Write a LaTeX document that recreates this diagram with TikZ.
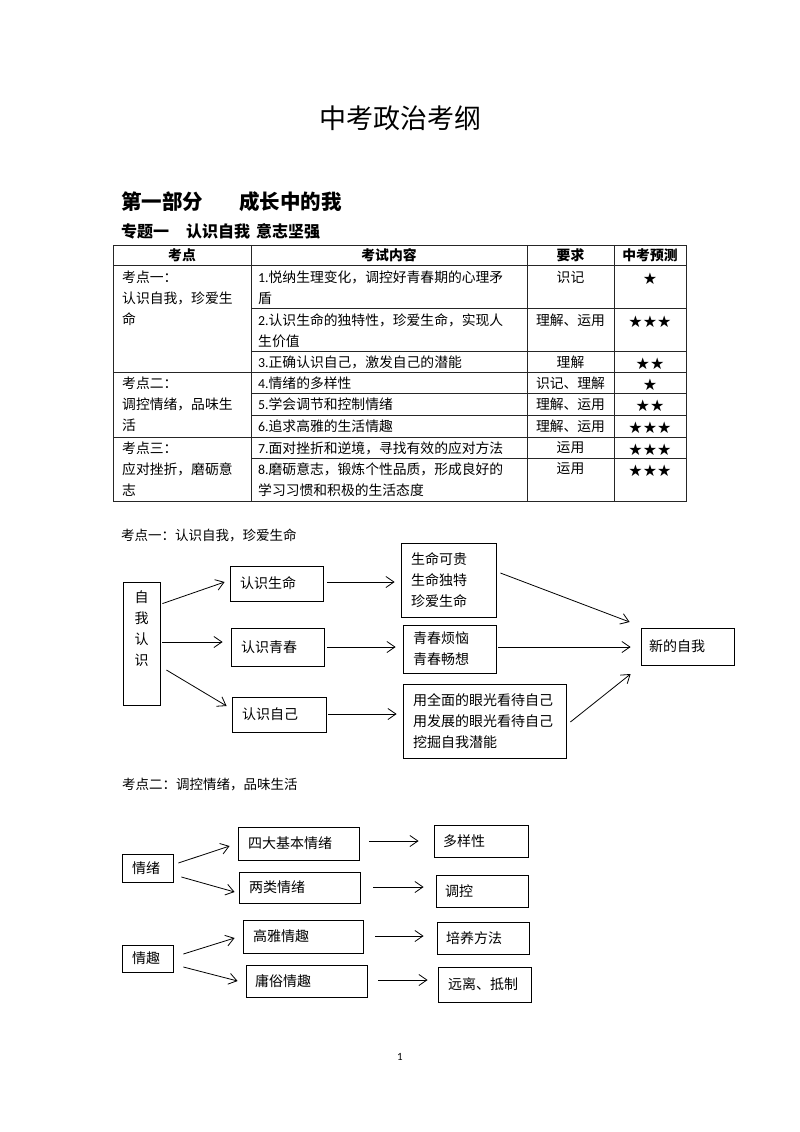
\documentclass[tikz,border=0pt]{standalone}
\usepackage{fontspec}
\setmainfont{Noto Sans CJK SC}
\newfontfamily\lat{Carlito}
\newfontfamily\sym{DejaVu Sans}
\usetikzlibrary{arrows.meta}
\tikzset{
  bx/.style={draw, line width=0.8pt, inner xsep=10pt, inner ysep=0pt, align=left, font=\fontsize{14}{21}\selectfont},
  arr/.style={-{Straight Barb[length=8pt,width=11pt]}, line width=0.8pt},
  tbl/.style={line width=0.7pt, black!85},
  tl/.style={anchor=west, inner sep=0pt, font=\fontsize{13.8}{21}\selectfont},
  tc/.style={anchor=center, inner sep=0pt, font=\fontsize{13.8}{21}\selectfont},
  th/.style={anchor=center, inner sep=0pt, font=\bfseries\fontsize{13.8}{21}\selectfont},
  stars/.style={anchor=center, inner sep=0pt, font=\sym\fontsize{16}{16}\selectfont},
  captxt/.style={anchor=west, inner sep=0pt, font=\fontsize{13.5}{21}\selectfont},
}
\begin{document}
\begin{tikzpicture}[x=1pt,y=-1pt]
\useasboundingbox (0,0) rectangle (800,1132);
\fill[white] (0,0) rectangle (800,1132);

% headings
\node[inner sep=0pt, font=\fontsize{27}{27}\selectfont] (title) at (400.5,118) {中考政治考纲};
\node[anchor=west, inner sep=0pt, font=\bfseries\fontsize{20.5}{20.5}\selectfont] (part) at (121,202) {第一部分\hspace{36pt}成长中的我};
\node[anchor=west, inner sep=0pt, font=\bfseries\fontsize{16}{16}\selectfont] (topic) at (121,231) {专题一\hspace{17pt}认识自我\hspace{6pt}意志坚强};

% table grid
\draw[tbl] (113,245) rectangle (686,501);
\draw[tbl] (113,265) -- (686,265);
\draw[tbl] (113,372) -- (686,372);
\draw[tbl] (113,437) -- (686,437);
\foreach \yy in {308,351,393,415,458} \draw[tbl] (251,\yy) -- (686,\yy);
\foreach \xx in {251,527,614} \draw[tbl] (\xx,245) -- (\xx,501);

% header
\node[th] (h1) at (182,255) {考点};
\node[th] (h2) at (389,255) {考试内容};
\node[th] (h3) at (570.5,255) {要求};
\node[th] (h4) at (650,255) {中考预测};

% column 1
\node[tl] (k1a) at (122,277) {考点一：};
\node[tl] (k1b) at (122,298) {认识自我，珍爱生};
\node[tl] (k1c) at (122,319) {命};
\node[tl] (k2a) at (122,383) {考点二：};
\node[tl] (k2b) at (122,404) {调控情绪，品味生};
\node[tl] (k2c) at (122,425) {活};
\node[tl] (k3a) at (122,448) {考点三：};
\node[tl] (k3b) at (122,469) {应对挫折，磨砺意};
\node[tl] (k3c) at (122,490) {志};

% column 2
\node[tl] (c1a) at (258,277) {{\lat 1.}悦纳生理变化，调控好青春期的心理矛};
\node[tl] (c1b) at (258,298) {盾};
\node[tl] (c2a) at (258,320) {{\lat 2.}认识生命的独特性，珍爱生命，实现人};
\node[tl] (c2b) at (258,341) {生价值};
\node[tl] (c3a) at (258,362) {{\lat 3.}正确认识自己，激发自己的潜能};
\node[tl] (c4a) at (258,383) {{\lat 4.}情绪的多样性};
\node[tl] (c5a) at (258,404) {{\lat 5.}学会调节和控制情绪};
\node[tl] (c6a) at (258,426) {{\lat 6.}追求高雅的生活情趣};
\node[tl] (c7a) at (258,448) {{\lat 7.}面对挫折和逆境，寻找有效的应对方法};
\node[tl] (c8a) at (258,469) {{\lat 8.}磨砺意志，锻炼个性品质，形成良好的};
\node[tl] (c8b) at (258,490) {学习习惯和积极的生活态度};

% column 3
\node[tc] (q1) at (570.5,277) {识记};
\node[tc] (q2) at (570.5,320) {理解、运用};
\node[tc] (q3) at (570.5,362) {理解};
\node[tc] (q4) at (570.5,383) {识记、理解};
\node[tc] (q5) at (570.5,404) {理解、运用};
\node[tc] (q6) at (570.5,426) {理解、运用};
\node[tc] (q7) at (570.5,448) {运用};
\node[tc] (q8) at (570.5,469) {运用};

% column 4
\node[stars] (s1) at (650,279) {★};
\node[stars] (s2) at (650,322) {★★★};
\node[stars] (s3) at (650,364) {★★};
\node[stars] (s4) at (650,385) {★};
\node[stars] (s5) at (650,406) {★★};
\node[stars] (s6) at (650,428) {★★★};
\node[stars] (s7) at (650,450) {★★★};
\node[stars] (s8) at (650,471) {★★★};

% diagram 1
\node[captxt] (cap1) at (121,535) {考点一：认识自我，珍爱生命};
\node[draw, line width=0.8pt, inner sep=0pt, minimum width=37pt, minimum height=123pt] (zw) at (141.5,643.5) {};
\node[anchor=north, inner sep=0pt, align=center, font=\fontsize{14}{20.7}\selectfont] (zwt) at (141.5,591) {自\\我\\认\\识};
\node[bx, text width=73pt, minimum height=35pt] (rsm) at (276.5,583.5) {认识生命};
\node[bx, text width=73pt, minimum height=38pt] (rqc) at (277.5,647) {认识青春};
\node[bx, text width=74pt, minimum height=35pt] (rzj) at (279,714.5) {认识自己};
\node[bx, text width=75pt, minimum height=74pt] (smkg) at (448.5,580) {生命可贵\\生命独特\\珍爱生命};
\node[bx, text width=73pt, minimum height=48pt] (qcfn) at (449.5,649) {青春烦恼\\青春畅想};
\node[bx, text width=143pt, minimum height=74pt] (yqm) at (484.5,721) {用全面的眼光看待自己\\用发展的眼光看待自己\\挖掘自我潜能};
\node[bx, inner xsep=8pt, text width=77pt, minimum height=37pt] (xdzw) at (687.5,646.5) {新的自我};

\draw[arr] ([shift={(2,22)}]zw.north east) -- ([shift={(-5,-1.5)}]rsm.west);
\draw[arr] ([shift={(2,-1.5)}]zw.east) -- ([shift={(-8,-5)}]rqc.west);
\draw[arr] ([shift={(6,26.5)}]zw.east) -- ([shift={(-5,-8.5)}]rzj.west);
\draw[arr] ([shift={(4,-1.5)}]rsm.east) -- ([shift={(-6,2)}]smkg.west);
\draw[arr] ([shift={(3,0)}]rqc.east) -- ([shift={(-7,-2)}]qcfn.west);
\draw[arr] ([shift={(2,-0.5)}]rzj.east) -- ([shift={(-6,-7)}]yqm.west);
\draw[arr] ([shift={(4,-7)}]smkg.east) -- ([shift={(-11,-24.5)}]xdzw.west);
\draw[arr] ([shift={(2,-2)}]qcfn.east) -- ([shift={(-10,0.5)}]xdzw.west);
\draw[arr] ([shift={(4,1)}]yqm.east) -- ([shift={(-10,27.5)}]xdzw.west);

% diagram 2
\node[captxt] (cap2) at (122,785) {考点二：调控情绪，品味生活};
\node[bx, text width=31pt, minimum height=28pt] (qx) at (147.5,868) {情绪};
\node[bx, text width=101pt, minimum height=33pt] (sdjb) at (298.5,843.5) {四大基本情绪};
\node[bx, text width=101pt, minimum height=31pt] (llqx) at (299.5,887.5) {两类情绪};
\node[bx, inner xsep=9pt, text width=76pt, minimum height=32pt] (dyx) at (481,841) {多样性};
\node[bx, inner xsep=9pt, text width=74pt, minimum height=32pt] (tk) at (482,891) {调控};
\node[bx, text width=31pt, minimum height=27pt] (qq) at (147.5,958.5) {情趣};
\node[bx, text width=100pt, minimum height=33pt] (gyqq) at (303,936.5) {高雅情趣};
\node[bx, inner xsep=9pt, text width=103pt, minimum height=32pt] (ysqq) at (306.5,981) {庸俗情趣};
\node[bx, inner xsep=9pt, text width=74pt, minimum height=32pt] (pyff) at (483,938) {培养方法};
\node[bx, text width=73pt, minimum height=35pt] (ylfz) at (484.5,984.5) {远离、抵制};

\draw[arr] ([shift={(5,-5)}]qx.east) -- ([shift={(-8,2.5)}]sdjb.west);
\draw[arr] ([shift={(8,9)}]qx.east) -- ([shift={(-4,4.5)}]llqx.west);
\draw[arr] ([shift={(10,-2.5)}]sdjb.east) -- ([shift={(-15,0)}]dyx.west);
\draw[arr] ([shift={(13,-0.5)}]llqx.east) -- ([shift={(-12,-4)}]tk.west);
\draw[arr] ([shift={(10,-4.5)}]qq.east) -- ([shift={(-8,1.5)}]gyqq.west);
\draw[arr] ([shift={(10,8.5)}]qq.east) -- ([shift={(-8,0)}]ysqq.west);
\draw[arr] ([shift={(12,-0.5)}]gyqq.east) -- ([shift={(-13,-2)}]pyff.west);
\draw[arr] ([shift={(11,-1)}]ysqq.east) -- ([shift={(-10,-4.5)}]ylfz.west);

% page number
\node[inner sep=0pt, font=\lat\fontsize{11}{11}\selectfont] (pg) at (400,1057) {1};
\end{tikzpicture}
\end{document}
